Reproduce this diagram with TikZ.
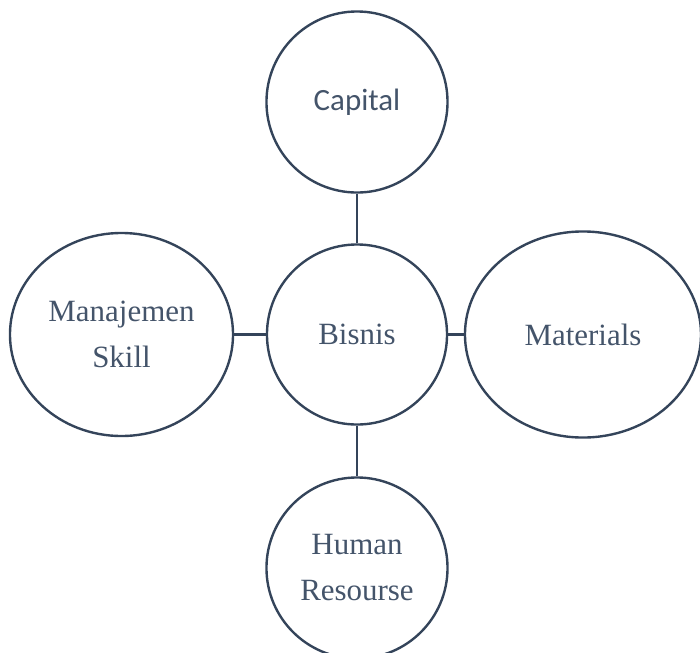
\documentclass[tikz,border=0pt]{standalone}
\usepackage{fontspec}
\usepackage{xcolor}
\usetikzlibrary{shapes.geometric}
\setmainfont{Liberation Serif}
\newfontfamily\calibri{Carlito}
\definecolor{testo}{HTML}{44546A}
\definecolor{bordo}{HTML}{34445A}

\begin{document}
\begin{tikzpicture}[x=0.025cm, y=-0.025cm,
        bolla/.style={draw=bordo, line width=1.7pt, text=testo, inner sep=0pt, align=center, font=\fontsize{22}{32.7}\selectfont},
        arco/.style={draw=bordo, line width=1.7pt}]
            \useasboundingbox (0,0) rectangle (700,653);

            % Nodi
            \node[bolla, circle, minimum size=4.5cm] (bisnis) at (357,334.5) {Bisnis};
            \node[bolla, circle, minimum size=4.525cm, font=\calibri\fontsize{22}{32.7}\selectfont] (capital) at (357,102) {Capital};
            \node[bolla, ellipse, minimum width=5.575cm, minimum height=5.075cm] (manajemen) at (121.5,334.5) {Manajemen\\Skill};
            \node[bolla, ellipse, minimum width=5.9cm, minimum height=5.15cm] (materials) at (583,334.5) {Materials};
            \node[bolla, circle, minimum size=4.525cm] (human) at (357,568) {Human\\Resourse};

            % Archi
            \foreach \y in {capital, manajemen, materials, human} {
                    \draw[arco] (bisnis) -- (\y);
                }
        \end{tikzpicture}
\end{document}
